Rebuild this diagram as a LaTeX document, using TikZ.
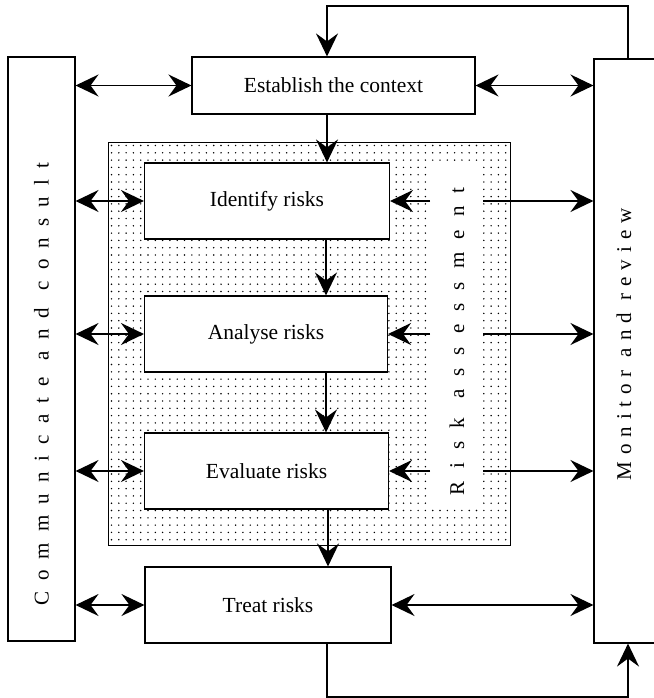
\documentclass[tikz,border=0pt]{standalone}
\usepackage{fontspec}
\setmainfont{Liberation Serif}
\usetikzlibrary{arrows.meta}
\newdimen\lsp
\def\spaced#1{\spacedA#1\relax}
\def\spacedA#1{\ifx#1\relax\else #1\hskip\lsp\expandafter\spacedA\fi}
\begin{document}
\begin{tikzpicture}[x=1pt,y=-1pt,
  box/.style={draw,line width=1.1pt,fill=white,inner sep=0pt,font=\fontsize{21.5}{25}\selectfont},
  vtext/.style={rotate=90,inner sep=0pt,font=\fontsize{21}{25}\selectfont},
  tip/.style={Stealth[length=23pt,width=22pt,inset=8pt]},
  arr/.style={line width=1.4pt,-{Stealth[length=23pt,width=22pt,inset=8pt]}},
  darr/.style={line width=1.4pt,{Stealth[length=23pt,width=22pt,inset=8pt]}-{Stealth[length=23pt,width=22pt,inset=8pt]}}]
\useasboundingbox (0,0) rectangle (653,698);
% dotted region
\fill[black] \foreach \i in {0,...,54} { \foreach \j in {0,...,54} { ({111.5+7.3*\i},{145.5+7.3*\j}) circle (0.8pt) } };
\draw[line width=0.7pt] (108,142) rectangle (510,545);
\fill[white] (430,162) rectangle (483,508);
\node[vtext] (ra) at (457,335) {\lsp=13.1pt\spaced{Risk}\hskip6pt\spaced{assessment}\hskip-\lsp};
\coordinate (sl) at (430,335);
\coordinate (sr) at (483,335);
% boxes
\node[box,minimum width=67pt,minimum height=584pt] (lb) at (41.5,349) {};
\node[vtext] (cc) at (41.5,379) {\lsp=11.1pt\spaced{Communicate}\hskip6pt\spaced{and}\hskip6pt\spaced{consult}\hskip-\lsp};
\node[box,minimum width=64pt,minimum height=584pt] (rb) at (626,351) {};
\node[vtext] (mr) at (624,341) {\lsp=6.9pt\spaced{Monitor}\hskip6pt\spaced{and}\hskip6pt\spaced{review}\hskip-\lsp};
\node[box,minimum width=283pt,minimum height=57pt] (est) at (333.5,85.5) {Establish the context};
\node[box,minimum width=245pt,minimum height=76pt] (id) at (267,201) {Identify risks};
\node[box,minimum width=243pt,minimum height=76pt] (an) at (266,334) {Analyse risks};
\node[box,minimum width=244pt,minimum height=76pt] (ev) at (266.5,471) {Evaluate risks};
\node[box,minimum width=246pt,minimum height=76pt] (tr) at (268,605) {Treat risks};
% vertical flow
\draw[arr] (est.south -| 327,0) -- (id.north -| 327,0);
\draw[arr] (id.south -| 326,0) -- (an.north -| 326,0);
\draw[arr] (an.south -| 326,0) -- (ev.north -| 326,0);
\draw[arr] (ev.south -| 328,0) -- (tr.north -| 328,0);
% feedback loops
\coordinate (t1) at (628,6);
\coordinate (t2) at (327,6);
\draw[arr] (t1 |- rb.north) -- (t1) -- (t2) -- (t2 |- est.north);
\coordinate (b1) at (327,697);
\coordinate (b2) at (628,697);
\draw[arr] (b1 |- tr.south) -- (b1) -- (b2) -- (b2 |- rb.south);
% communicate arrows
\draw[darr] (lb.east |- est) -- (est.west);
\draw[darr] (lb.east |- id) -- (id.west);
\draw[darr] (lb.east |- an) -- (an.west);
\draw[darr] (lb.east |- ev) -- (ev.west);
\draw[darr] (lb.east |- tr) -- (tr.west);
% monitor arrows
\draw[darr] (est.east) -- (rb.west |- est);
\draw[darr] (tr.east) -- (rb.west |- tr);
\draw[arr] (sl |- id) -- (id.east);
\draw[arr] (sr |- id) -- (rb.west |- id);
\draw[arr] (sl |- an) -- (an.east);
\draw[arr] (sr |- an) -- (rb.west |- an);
\draw[arr] (sl |- ev) -- (ev.east);
\draw[arr] (sr |- ev) -- (rb.west |- ev);
\end{tikzpicture}
\end{document}
